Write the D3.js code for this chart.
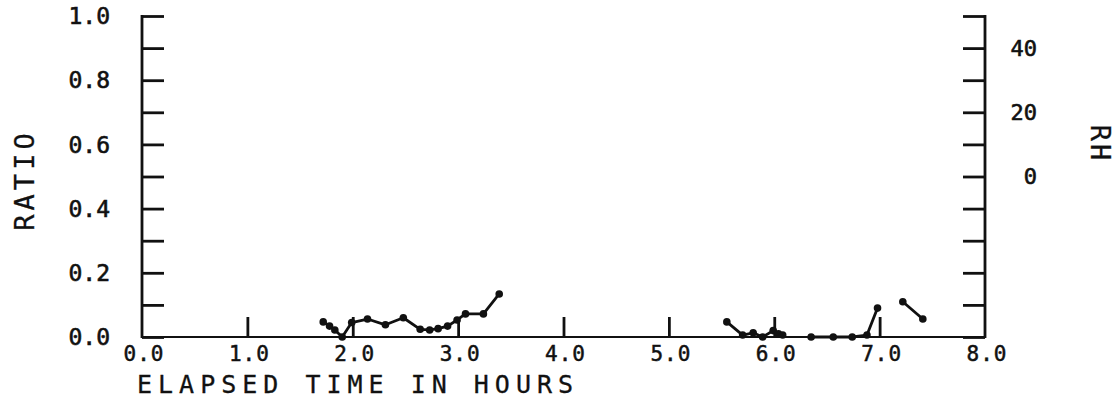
<!DOCTYPE html>
<html><head><meta charset="utf-8">
<script src="https://cdn.jsdelivr.net/npm/d3@7"></script>
<style>html,body{margin:0;padding:0;background:#fff;}svg{display:block;}</style>
</head><body>
<svg id="c" width="1118" height="412"></svg>
<script>
// Data (null = break in the trace)
const hours = [1.72, 1.78, 1.83, 1.90, 1.99, 2.14, 2.31, 2.48, 2.64, 2.73, 2.81, 2.90, 2.99, 3.07, 3.24, 3.39, null,
               5.55, 5.70, 5.80, 5.89, 5.99, 6.04, 6.08, null,
               6.35, 6.56, 6.74, 6.88, 6.98, null,
               7.22, 7.41];
const ratio = [0.047, 0.034, 0.022, 0.000, 0.045, 0.056, 0.038, 0.060, 0.024, 0.022, 0.026, 0.034, 0.053, 0.072, 0.072, 0.134, null,
               0.047, 0.006, 0.013, 0.000, 0.020, 0.010, 0.006, null,
               0.000, 0.000, 0.000, 0.006, 0.090, null,
               0.110, 0.056];
const xTicks = [0, 1, 2, 3, 4, 5, 6, 7, 8];
const xTickLabels = ["0.0", "1.0", "2.0", "3.0", "4.0", "5.0", "6.0", "7.0", "8.0"];
const yTicks = [0, 0.1, 0.2, 0.3, 0.4, 0.5, 0.6, 0.7, 0.8, 0.9, 1.0];
const yLabelVals = [0, 0.2, 0.4, 0.6, 0.8, 1.0];
const yLabels = ["0.0", "0.2", "0.4", "0.6", "0.8", "1.0"];
const rhTicks = [-50, -40, -30, -20, -10, 0, 10, 20, 30, 40, 50];
const rhLabelVals = [0, 20, 40];
const rhLabels = ["0", "20", "40"];

const svg = d3.select("#c");
const font = "'DejaVu Sans Mono', monospace";
const x = d3.scaleLinear().domain([0, 8]).range([142, 985]);
const y = d3.scaleLinear().domain([0, 1]).range([337, 16]);
const rh = d3.scaleLinear().domain([-50, 50]).range([337, 16]);
const ink = "#111";

// Left axis
const gl = svg.append("g").attr("transform", `translate(${x(0)},0)`);
gl.call(d3.axisRight(y).tickValues(yTicks).tickSize(22).tickFormat(""));
gl.select(".domain").remove();
gl.selectAll("line").attr("stroke", ink).attr("stroke-width", 2.8);
svg.append("line").attr("x1", x(0)).attr("x2", x(0)).attr("y1", y(1) - 1).attr("y2", y(0) + 1)
  .attr("stroke", ink).attr("stroke-width", 2.8);
svg.append("g").selectAll("text").data(yLabelVals).join("text")
  .attr("x", 110).attr("y", d => y(d)).attr("dy", "0.36em").attr("text-anchor", "end")
  .attr("font-family", font).attr("font-size", 23).attr("fill", ink)
  .attr("stroke", ink).attr("stroke-width", 0.6)
  .text((d, i) => yLabels[i]);

// Right axis
const gr = svg.append("g").attr("transform", `translate(${x(8)},0)`);
gr.call(d3.axisLeft(rh).tickValues(rhTicks).tickSize(22).tickFormat(""));
gr.select(".domain").remove();
gr.selectAll("line").attr("stroke", ink).attr("stroke-width", 2.8);
svg.append("line").attr("x1", x(8)).attr("x2", x(8)).attr("y1", rh(50) - 1).attr("y2", rh(-50) + 1)
  .attr("stroke", ink).attr("stroke-width", 2.8);
svg.append("g").selectAll("text").data(rhLabelVals).join("text")
  .attr("x", 1037).attr("y", d => rh(d)).attr("dy", "0.36em").attr("text-anchor", "end")
  .attr("font-family", font).attr("font-size", 22).attr("fill", ink)
  .attr("stroke", ink).attr("stroke-width", 0.6)
  .text((d, i) => rhLabels[i]);

// Bottom axis
const gb = svg.append("g").attr("transform", `translate(0,${y(0)})`);
gb.call(d3.axisTop(x).tickValues(xTicks.slice(1, -1)).tickSize(20).tickFormat(""));
gb.select(".domain").remove();
gb.selectAll("line").attr("stroke", ink).attr("stroke-width", 2.8);
svg.append("line").attr("x1", x(0)).attr("x2", x(8)).attr("y1", y(0)).attr("y2", y(0))
  .attr("stroke", ink).attr("stroke-width", 2.2);
svg.append("g").selectAll("text").data(xTicks).join("text")
  .attr("x", d => x(d) + 2).attr("y", 361).attr("text-anchor", "middle")
  .attr("font-family", font).attr("font-size", 21).attr("letter-spacing", 1).attr("fill", ink)
  .attr("stroke", ink).attr("stroke-width", 0.5)
  .text((d, i) => xTickLabels[i]);

// Axis titles
svg.append("text").attr("x", 137).attr("y", 393)
  .attr("font-family", font).attr("font-size", 25).attr("letter-spacing", 6).attr("fill", ink)
  .attr("stroke", ink).attr("stroke-width", 0.3)
  .text("ELAPSED TIME IN HOURS");
svg.append("text").attr("transform", "translate(34,180) rotate(-90)").attr("text-anchor", "middle")
  .attr("font-family", font).attr("font-size", 27).attr("letter-spacing", 4).attr("fill", ink)
  .attr("stroke", ink).attr("stroke-width", 0.3)
  .text("RATIO");
svg.append("text").attr("transform", "translate(1091,144) rotate(90)").attr("text-anchor", "middle")
  .attr("font-family", font).attr("font-size", 27).attr("letter-spacing", 3).attr("fill", ink)
  .attr("stroke", ink).attr("stroke-width", 0.3)
  .text("RH");

// Series
const pts = hours.map((h, i) => ({h, r: ratio[i]}));
const line = d3.line().defined(d => d.h !== null && d.r !== null).x(d => x(d.h)).y(d => y(d.r));
svg.append("path").attr("d", line(pts)).attr("fill", "none").attr("stroke", ink)
  .attr("stroke-width", 2.8).attr("stroke-linejoin", "round");
svg.append("g").selectAll("circle").data(pts.filter(d => d.h !== null)).join("circle")
  .attr("cx", d => x(d.h)).attr("cy", d => y(d.r)).attr("r", 3.8).attr("fill", ink);
</script>
</body></html>
